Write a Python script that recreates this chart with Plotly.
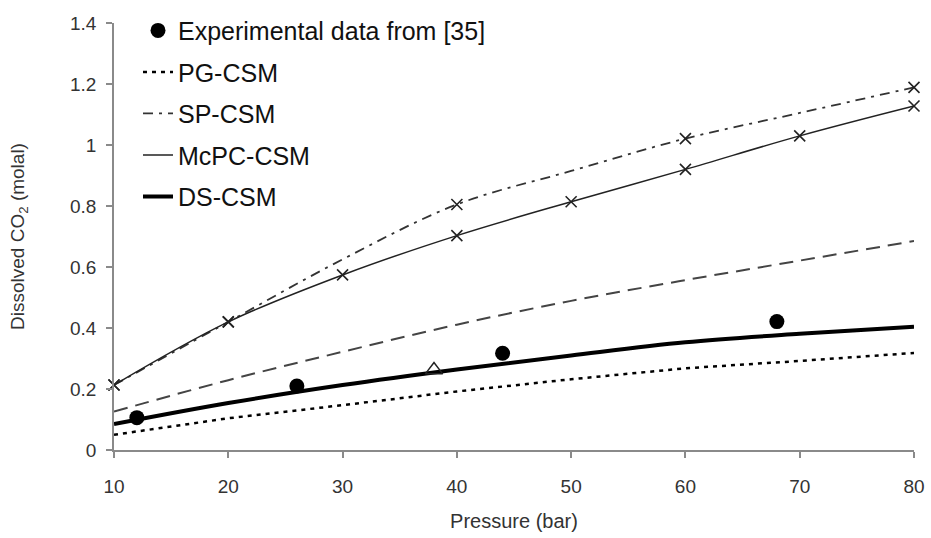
import plotly.graph_objects as go

pressure = [10, 20, 30, 40, 50, 60, 70, 80]
pg_csm = [0.050, 0.104, 0.147, 0.192, 0.232, 0.268, 0.292, 0.318]
sp_csm = [0.213, 0.420, 0.625, 0.805, 0.915, 1.021, 1.105, 1.189]
mcpc_csm = [0.213, 0.420, 0.574, 0.703, 0.814, 0.920, 1.030, 1.128]
ds_csm = [0.085, 0.154, 0.213, 0.264, 0.310, 0.353, 0.381, 0.404]
unlabeled_dashed = [0.126, 0.229, 0.322, 0.411, 0.489, 0.557, 0.621, 0.685]

sp_marker_p = [10, 20, 40, 60, 80]
sp_marker_v = [0.213, 0.420, 0.805, 1.021, 1.189]

exp_p = [12, 26, 44, 68]
exp_v = [0.106, 0.210, 0.317, 0.421]
tri_p = [38]
tri_v = [0.262]

x_ticks = [10, 20, 30, 40, 50, 60, 70, 80]
y_ticks = [0, 0.2, 0.4, 0.6, 0.8, 1, 1.2, 1.4]
y_ticktext = ["0", "0.2", "0.4", "0.6", "0.8", "1", "1.2", "1.4"]

FONT = "Liberation Sans, Arial, sans-serif"

fig = go.Figure()

fig.add_trace(go.Scatter(x=exp_p, y=exp_v, mode="markers", name="Experimental data from [35]",
                         marker=dict(symbol="circle", size=15, color="black"),
                         legendgroup="a", cliponaxis=False))
fig.add_trace(go.Scatter(x=pressure, y=pg_csm, mode="lines", name="PG-CSM",
                         line=dict(color="black", width=2.5, dash="4px,5px"), legendgroup="b"))
fig.add_trace(go.Scatter(x=pressure, y=sp_csm, mode="lines", name="SP-CSM",
                         line=dict(color="#333333", width=1.8, dash="10px,6px,3px,6px", shape="spline"),
                         legendgroup="c"))
fig.add_trace(go.Scatter(x=pressure, y=mcpc_csm, mode="lines", name="McPC-CSM",
                         line=dict(color="#222222", width=1.5, shape="spline"), legendgroup="d"))
fig.add_trace(go.Scatter(x=pressure, y=ds_csm, mode="lines", name="DS-CSM",
                         line=dict(color="black", width=4, shape="spline"), legendgroup="e"))
fig.add_trace(go.Scatter(x=pressure, y=unlabeled_dashed, mode="lines", showlegend=False,
                         line=dict(color="#444444", width=2, dash="14px,8px", shape="spline")))
fig.add_trace(go.Scatter(x=pressure, y=mcpc_csm, mode="markers", showlegend=False, cliponaxis=False,
                         marker=dict(symbol="x-thin", size=11, line=dict(color="#222222", width=1.6))))
fig.add_trace(go.Scatter(x=sp_marker_p, y=sp_marker_v, mode="markers", showlegend=False, cliponaxis=False,
                         marker=dict(symbol="x-thin", size=11, line=dict(color="#222222", width=1.6))))
fig.add_trace(go.Scatter(x=tri_p, y=tri_v, mode="markers", showlegend=False, cliponaxis=False,
                         marker=dict(symbol="triangle-up-open", size=15, color="#222222",
                                     line=dict(width=1.5))))

fig.update_layout(
    width=931, height=538,
    margin=dict(l=114, r=17, t=23, b=88, autoexpand=False),
    paper_bgcolor="white", plot_bgcolor="white",
    font=dict(family=FONT, color="#222222"),
    showlegend=True,
    legend=dict(x=0.03, y=1.036, xanchor="left", yanchor="top",
                bgcolor="rgba(0,0,0,0)", font=dict(size=25, family=FONT, color="#111111"),
                traceorder="grouped", tracegroupgap=6, itemwidth=30),
    xaxis=dict(range=[10, 80], tickvals=x_ticks, automargin=False,
               showgrid=False, zeroline=False, showline=True, linecolor="#8a8a8a", linewidth=1.5,
               ticks="outside", ticklen=6, tickcolor="#8a8a8a", tickwidth=1.5,
               ticklabelstandoff=12,
               tickfont=dict(size=19, color="#333333"),
               title=dict(text="Pressure (bar)", font=dict(size=20, color="#333333"), standoff=18)),
    yaxis=dict(range=[0, 1.4], tickvals=y_ticks, ticktext=y_ticktext, automargin=False,
               showgrid=False, zeroline=False, showline=True, linecolor="#8a8a8a", linewidth=1.5,
               ticks="outside", ticklen=6, tickcolor="#8a8a8a", tickwidth=1.5,
               ticklabelstandoff=6,
               tickfont=dict(size=19, color="#333333"),
               title=dict(text="Dissolved CO<sub>2</sub> (molal)", font=dict(size=19, color="#333333"),
                          standoff=40)),
)

fig.write_html("out.html", config={"displayModeBar": False},
               post_script="document.body.style.margin='0';document.body.style.padding='0';")
